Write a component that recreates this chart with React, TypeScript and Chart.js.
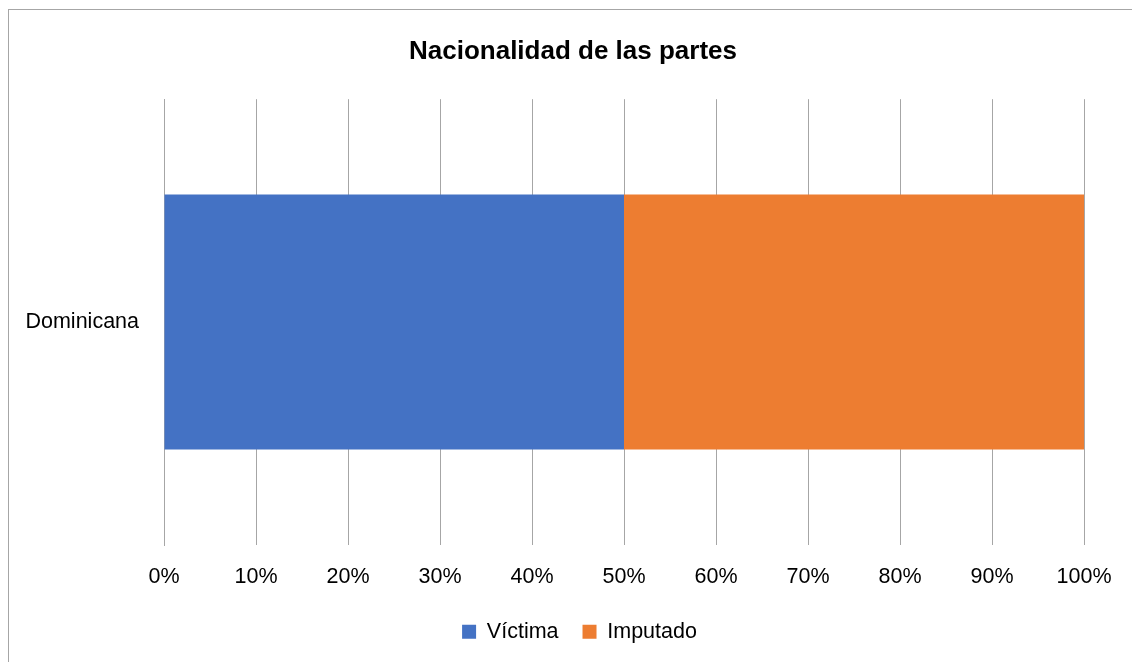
import React, { useEffect, useRef } from "react";
import { Chart, registerables } from "chart.js";

Chart.register(...registerables);

const categories = ["Dominicana"];
const victimaValues = [50];
const imputadoValues = [50];
const xTicks = [0, 10, 20, 30, 40, 50, 60, 70, 80, 90, 100];
const titleText = "Nacionalidad de las partes";

const FONT = '"Liberation Sans", Arial, sans-serif';

const recenter = {
  id: "recenter",
  afterLayout(chart: any) {
    const t = chart.titleBlock;
    if (t) {
      t.left = 5;
      t.right = chart.width;
      t.width = t.right - t.left;
    }
    const l = chart.legend;
    if (l) {
      l.left = 18;
      l.right = chart.width;
      l.width = l.right - l.left;
    }
  },
};

export default function App() {
  const ref = useRef<HTMLCanvasElement | null>(null);

  useEffect(() => {
    if (!ref.current) return;
    const chart = new Chart(ref.current, {
      type: "bar",
      data: {
        labels: categories,
        datasets: [
          {
            label: "Víctima",
            data: victimaValues,
            backgroundColor: "#4472C4",
            borderWidth: 0,
            barPercentage: 0.572,
            categoryPercentage: 1,
          },
          {
            label: "Imputado",
            data: imputadoValues,
            backgroundColor: "#ED7D31",
            borderWidth: 0,
            barPercentage: 0.572,
            categoryPercentage: 1,
          },
        ],
      },
      plugins: [recenter],
      options: {
        indexAxis: "y",
        responsive: false,
        animation: false,
        layout: { padding: { left: 17, right: 48, top: 0, bottom: 9.5 } },
        scales: {
          x: {
            stacked: true,
            min: 0,
            max: 100,
            afterBuildTicks: (axis: any) => {
              axis.ticks = xTicks.map((v) => ({ value: v }));
            },
            afterFit: (axis: any) => {
              axis.height = 52;
            },
            grid: { color: "#a6a6a6", lineWidth: 1, drawTicks: false },
            border: { display: false },
            ticks: {
              padding: 19,
              color: "#000",
              font: { family: FONT, size: 21.5 },
              callback: (v: any) => v + "%",
              maxRotation: 0,
              autoSkip: false,
            },
          },
          y: {
            stacked: true,
            grid: { display: false, drawTicks: false },
            border: { display: true, color: "#a6a6a6", width: 1 },
            afterFit: (axis: any) => {
              axis.width = 138;
            },
            ticks: {
              padding: 25,
              color: "#000",
              font: { family: FONT, size: 21.5 },
            },
          },
        },
        plugins: {
          title: {
            display: true,
            text: titleText,
            color: "#000",
            font: { family: FONT, size: 26, weight: "bold" },
            padding: { top: 26, bottom: 32 },
          },
          legend: {
            display: true,
            position: "bottom",
            labels: {
              boxWidth: 14,
              boxHeight: 14,
              padding: 24,
              color: "#000",
              font: { family: FONT, size: 21.5 },
            },
          },
          tooltip: { enabled: false },
        },
      },
    });
    return () => chart.destroy();
  }, []);

  return (
    <div
      style={{
        position: "absolute",
        left: 8,
        top: 9,
        width: 1124,
        height: 653,
        borderTop: "1px solid #a6a6a6",
        borderLeft: "1px solid #a6a6a6",
        boxSizing: "border-box",
        background: "#fff",
        overflow: "hidden",
      }}
    >
      <canvas ref={ref} width={1123} height={652} style={{ display: "block" }} />
    </div>
  );
}
